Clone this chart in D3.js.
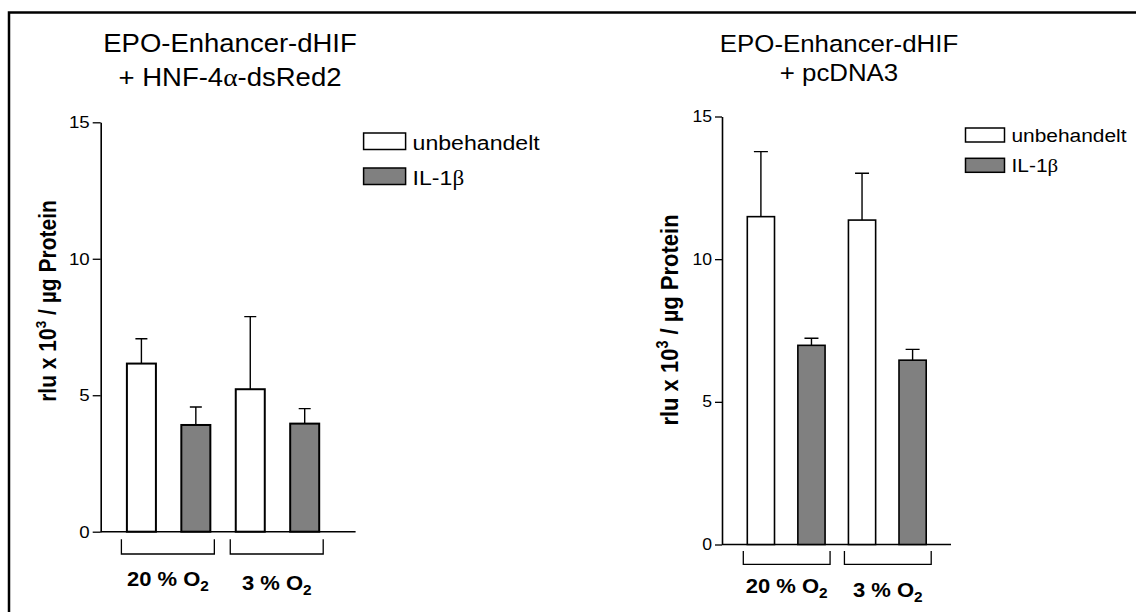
<!DOCTYPE html>
<html>
<head>
<meta charset="utf-8">
<script src="https://cdn.jsdelivr.net/npm/d3@7"></script>
<style>
  body { margin: 0; background: #fff; }
  svg { display: block; }
  text { font-family: "Liberation Sans", Arial, sans-serif; fill: #000; }
</style>
</head>
<body>
<svg></svg>
<script>
const width = 1136;
const height = 612;

// categories
const groups = ["20 %", "3 %"];
const treatments = ["unbehandelt", "IL-1β"];
const yTicks = [0, 5, 10, 15];

// bar order: 20% unbehandelt, 20% IL-1b, 3% unbehandelt, 3% IL-1b
const hnfMeans = [6.16, 3.91, 5.22, 3.96];
const hnfSem = [0.91, 0.66, 2.66, 0.55];
const pcMeans = [11.49, 6.98, 11.37, 6.46];
const pcSem = [2.28, 0.25, 1.64, 0.38];

const hnfTitle = ["EPO-Enhancer-dHIF", "+ HNF-4α-dsRed2"];
const pcTitle = ["EPO-Enhancer-dHIF", "+ pcDNA3"];

const fills = ["#ffffff", "#808080"];
const stretch = 1.1;

let svg = d3.select("svg")
    .attr("width", width)
    .attr("height", height);

// outer frame (left and top edge only)
svg.append("path")
    .attr("d", "M9,612V12.5H1136")
    .attr("fill", "none")
    .attr("stroke", "#000")
    .attr("stroke-width", 2.5);

// greek letters come from a serif face like the Symbol font of the original
function richText(sel, str) {
    str.split(/([αβ])/).filter(s => s.length).forEach(part => {
        let t = sel.append("tspan").text(part);
        if (/[αβ]/.test(part)) t.style("font-family", "'Liberation Serif', 'DejaVu Serif', serif");
    });
}

function drawPanel(p) {
    let g = svg.append("g");
    let keys = d3.range(p.means.length);

    let y = d3.scaleLinear()
        .domain([0, 15])
        .range([p.y0, p.y15]);
    let x = d3.scaleBand()
        .domain(keys)
        .range(p.barRange)
        .paddingInner(p.padInner)
        .paddingOuter(0);

    // title
    p.title.forEach((line, i) => {
        let t = g.append("text")
            .attr("transform", `translate(${p.titleX},${p.titleY[i]}) scale(${stretch},1)`)
            .attr("text-anchor", "middle")
            .style("font-size", p.titleFont + "px");
        richText(t, line);
    });

    // y axis
    let yAxis = d3.axisLeft(y)
        .tickValues(yTicks)
        .tickSize(p.tickLen)
        .tickSizeOuter(0)
        .tickPadding(3);
    let ax = g.append("g")
        .attr("transform", `translate(${p.axisX},0)`)
        .call(yAxis);
    ax.select(".domain").attr("stroke", "#000").attr("stroke-width", 1.6);
    ax.selectAll(".tick line").attr("stroke", "#000").attr("stroke-width", 1.3);
    ax.selectAll(".tick text")
        .style("font-family", "'Liberation Sans', Arial, sans-serif")
        .style("font-size", p.tickFont + "px")
        .attr("fill", "#000")
        .each(function() {
            let t = d3.select(this);
            let tx = +t.attr("x");
            t.attr("x", 0).attr("transform", `translate(${tx},0) scale(${stretch},1)`);
        });

    // x baseline
    g.append("line")
        .attr("x1", p.axisX).attr("x2", p.axisEnd)
        .attr("y1", y(0)).attr("y2", y(0))
        .attr("stroke", "#000")
        .attr("stroke-width", 1.6);

    // error bars
    keys.forEach(i => {
        let cx = x(i) + x.bandwidth() / 2;
        let top = y(p.means[i] + p.sem[i]);
        g.append("path")
            .attr("d", `M${cx},${y(p.means[i])}V${top}M${cx - p.cap / 2},${top}H${cx + p.cap / 2}`)
            .attr("fill", "none")
            .attr("stroke", "#000")
            .attr("stroke-width", 1.4);
    });

    // bars
    g.selectAll("rect.bar")
        .data(p.means)
        .enter()
        .append("rect")
            .attr("class", "bar")
            .attr("x", (d, i) => x(i))
            .attr("y", d => y(d))
            .attr("width", x.bandwidth())
            .attr("height", d => y(0) - y(d))
            .attr("fill", (d, i) => fills[i % 2])
            .attr("stroke", "#000")
            .attr("stroke-width", p.barStroke);

    // group brackets and labels
    groups.forEach((label, gi) => {
        let x0 = x(gi * 2) - p.bracketPad[0];
        let x1 = x(gi * 2 + 1) + x.bandwidth() + p.bracketPad[1];
        g.append("path")
            .attr("d", `M${x0},${p.bracketTop}V${p.bracketBot}H${x1}V${p.bracketTop}`)
            .attr("fill", "none")
            .attr("stroke", "#000")
            .attr("stroke-width", 1.3);
        let t = g.append("text")
            .attr("transform", `translate(${(x0 + x1) / 2},${p.catBaseline + gi * 3.5}) scale(${stretch},1)`)
            .attr("text-anchor", "middle")
            .style("font-size", "20px")
            .style("font-weight", "bold");
        t.append("tspan").text(label + " O");
        t.append("tspan").attr("dy", 5).style("font-size", "14px").text("2");
    });

    // y label
    let yl = g.append("text")
        .attr("transform", `translate(${p.yLabelX},${p.yLabelY}) rotate(-90) scale(1,${stretch})`)
        .attr("text-anchor", "middle")
        .style("font-size", p.yLabelFont + "px")
        .style("font-weight", "bold");
    yl.append("tspan").text("rlu x 10");
    yl.append("tspan").attr("dy", -9).style("font-size", "0.65em").text("3");
    yl.append("tspan").attr("dy", 9).text(" / µg Protein");

    // legend
    treatments.forEach((name, i) => {
        g.append("rect")
            .attr("x", p.legendX)
            .attr("y", p.legendY[i])
            .attr("width", p.boxW)
            .attr("height", p.boxH)
            .attr("fill", fills[i])
            .attr("stroke", "#000")
            .attr("stroke-width", 1.5);
        let t = g.append("text")
            .attr("transform", `translate(${p.legendX + p.boxW + 7},${p.legendY[i] + p.boxH}) scale(${stretch},1)`)
            .style("font-size", p.legendFont + "px");
        richText(t, name);
    });
}

drawPanel({
    means: hnfMeans, sem: hnfSem, title: hnfTitle,
    titleX: 230, titleY: [52, 86], titleFont: 25,
    axisX: 100.7, axisEnd: 355.6, y0: 531.7, y15: 122.3,
    barRange: [126.9, 319.2], padInner: 0.467,
    tickLen: 8, tickFont: 17, barStroke: 2, cap: 12,
    bracketPad: [5.5, 4], bracketTop: 539.3, bracketBot: 554, catBaseline: 586,
    yLabelX: 56, yLabelY: 301, yLabelFont: 21,
    legendX: 363.6, legendY: [133, 168], boxW: 42, boxH: 16.5, legendFont: 21
});

drawPanel({
    means: pcMeans, sem: pcSem, title: pcTitle,
    titleX: 839, titleY: [52, 81], titleFont: 23.5,
    axisX: 722, axisEnd: 951, y0: 544.5, y15: 116.5,
    barRange: [747.3, 926.2], padInner: 0.462,
    tickLen: 7, tickFont: 16, barStroke: 1.6, cap: 14,
    bracketPad: [4, 5], bracketTop: 551, bracketBot: 564.3, catBaseline: 593.3,
    yLabelX: 678, yLabelY: 320, yLabelFont: 22,
    legendX: 965.5, legendY: [128, 158.3], boxW: 39, boxH: 14, legendFont: 19
});
</script>
</body>
</html>
